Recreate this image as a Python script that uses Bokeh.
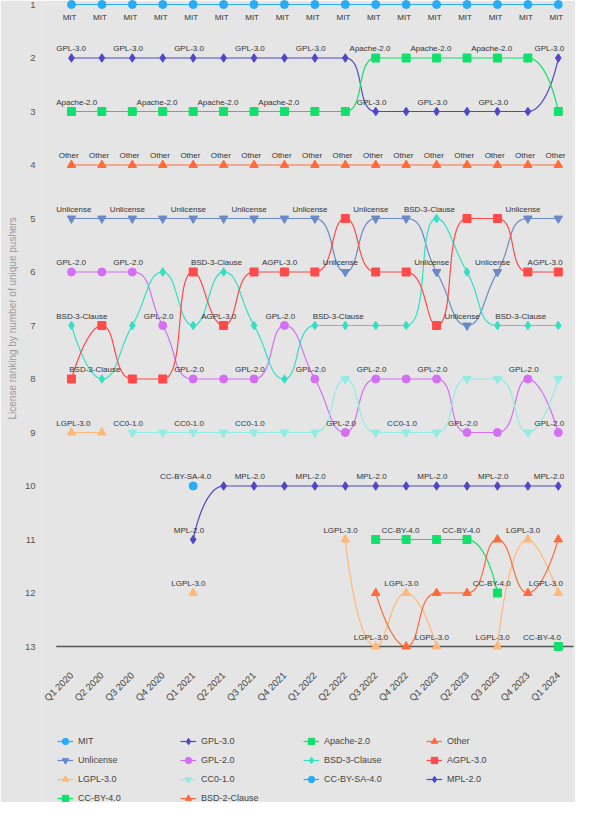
import math
from bokeh.plotting import figure
from bokeh.models import Range1d, FixedTicker, ColumnDataSource, Legend, LegendItem, Title
from bokeh.core.properties import value
from bokeh.embed import file_html
from bokeh.resources import INLINE

N = None
quarters = ["Q1 2020", "Q2 2020", "Q3 2020", "Q4 2020", "Q1 2021", "Q2 2021",
            "Q3 2021", "Q4 2021", "Q1 2022", "Q2 2022", "Q3 2022", "Q4 2022",
            "Q1 2023", "Q2 2023", "Q3 2023", "Q4 2023", "Q1 2024"]

licenses = ["MIT", "GPL-3.0", "Apache-2.0", "Other", "Unlicense", "GPL-2.0",
            "BSD-3-Clause", "AGPL-3.0", "LGPL-3.0", "CC0-1.0", "CC-BY-SA-4.0",
            "MPL-2.0", "CC-BY-4.0", "BSD-2-Clause"]

# rank of each license per quarter (None = not in the ranking)
mit = [1, 1, 1, 1, 1, 1, 1, 1, 1, 1, 1, 1, 1, 1, 1, 1, 1]
gpl3 = [2, 2, 2, 2, 2, 2, 2, 2, 2, 2, 3, 3, 3, 3, 3, 3, 2]
apache2 = [3, 3, 3, 3, 3, 3, 3, 3, 3, 3, 2, 2, 2, 2, 2, 2, 3]
other = [4, 4, 4, 4, 4, 4, 4, 4, 4, 4, 4, 4, 4, 4, 4, 4, 4]
unlicense = [5, 5, 5, 5, 5, 5, 5, 5, 5, 6, 5, 5, 6, 7, 6, 5, 5]
gpl2 = [6, 6, 6, 7, 8, 8, 8, 7, 8, 9, 8, 8, 8, 9, 9, 8, 9]
bsd3 = [7, 8, 7, 6, 7, 6, 7, 8, 7, 7, 7, 7, 5, 6, 7, 7, 7]
agpl3 = [8, 7, 8, 8, 6, 7, 6, 6, 6, 5, 6, 6, 7, 5, 5, 6, 6]
lgpl3 = [9, 9, N, N, 12, N, N, N, N, 11, 13, 12, 13, N, 13, 11, 12]
cc0 = [N, N, 9, 9, 9, 9, 9, 9, 9, 8, 9, 9, 9, 8, 8, 9, 8]
ccbysa4 = [N, N, N, N, 10, N, N, N, N, N, N, N, N, N, N, N, N]
mpl2 = [N, N, N, N, 11, 10, 10, 10, 10, 10, 10, 10, 10, 10, 10, 10, 10]
ccby4 = [N, N, N, N, N, N, N, N, N, N, 11, 11, 11, 11, 12, N, 13]
bsd2 = [N, N, N, N, N, N, N, N, N, N, 12, 13, 12, 12, 11, 12, 11]

series = [mit, gpl3, apache2, other, unlicense, gpl2, bsd3, agpl3, lgpl3, cc0,
          ccbysa4, mpl2, ccby4, bsd2]

# quarters whose point label is visible (the others are hidden by overlap)
shown = [
    list(range(17)),
    [0, 2, 4, 6, 8, 10, 12, 14, 16],
    [0, 3, 5, 7, 10, 12, 14],
    list(range(17)),
    [0, 2, 4, 6, 8, 9, 10, 12, 13, 14, 15],
    [0, 2, 3, 4, 6, 7, 8, 9, 10, 12, 13, 15, 16],
    [0, 1, 5, 9, 12, 15],
    [5, 7, 16],
    [0, 4, 9, 10, 11, 12, 14, 15, 16],
    [2, 4, 6, 11],
    [4],
    [4, 6, 8, 10, 12, 14, 16],
    [11, 13, 14, 16],
    [],
]

palette = ["#29abf5", "#5047c8", "#12e06c", "#ff6b3b", "#6a8ac6",
           "#d46ff5", "#33e0c4", "#ff4a4a", "#ffb878", "#92ece4"]
shapes = ["circle", "diamond", "square", "triangle", "inverted_triangle"]

BG = "#e5e5e5"
FONT = "Liberation Sans"

W, H = 575, 802
BL, BR, BT = 32, 2, 4
LEFT_PAD = 15          # px between frame left edge and the category band start
CHART_H = 642          # pixel height from rank 1 to rank 13
NQ = len(quarters)
PXX = (W - BL - BR - LEFT_PAD) / NQ
PXY = CHART_H / 12.0
below = (H - BT - CHART_H) / PXY   # extra rank units below rank 13 (axis labels + legend)

p = figure(width=W, height=H, x_range=Range1d(-0.5 - LEFT_PAD / PXX, NQ - 0.5),
           y_range=Range1d(13 + below, 1),
           output_backend="svg", toolbar_location=None,
           min_border_left=BL, min_border_right=BR, min_border_top=BT, min_border_bottom=0,
           background_fill_color=BG, border_fill_color=BG, outline_line_color=None)
p.grid.visible = False

xa = p.xaxis[0]
xa.fixed_location = 13
xa.ticker = FixedTicker(ticks=list(range(NQ)))
xa.major_label_overrides = {i: q for i, q in enumerate(quarters)}
xa.major_label_orientation = math.pi / 4
xa.axis_line_color = None
xa.major_tick_line_color = None
xa.minor_tick_line_color = None
xa.major_label_text_font = FONT
xa.major_label_text_font_size = "9.5px"
xa.major_label_text_color = "#444444"
xa.major_label_standoff = 21

# x axis baseline spanning the category band
p.segment(x0=[-0.5], y0=[13], x1=[NQ - 0.5], y1=[13], line_color="#555555",
          line_width=1.5, level="guide")

ya = p.yaxis[0]
ya.ticker = FixedTicker(ticks=list(range(1, 14)))
ya.axis_line_color = None
ya.major_tick_line_color = None
ya.minor_tick_line_color = None
ya.major_label_text_font = FONT
ya.major_label_text_font_size = "9.5px"
ya.major_label_text_color = "#555555"
ya.major_label_standoff = 0

ytitle = Title(text="License ranking by number of unique pushers", align="left",
               offset=383, standoff=8, text_font=FONT, text_font_size="10px",
               text_font_style="normal", text_color="#999999")
p.add_layout(ytitle, "left")


def smooth_runs(vals, smooth=0.5, steps=20):
    """Smoothed path through the ranks (cubic Beziers with clamped control points)."""
    xs, ys = [], []
    runs, cur = [], []
    for i, v in enumerate(vals):
        if v is None:
            if cur:
                runs.append(cur)
            cur = []
        else:
            cur.append((i * PXX, v * PXY))
    if cur:
        runs.append(cur)
    for pts in runs:
        if len(pts) < 2:
            continue
        n = len(pts)
        path = [pts[0]]
        cp0 = pts[0]
        for k in range(1, n):
            x, y = pts[k]
            px, py = pts[k - 1]
            ncp0 = None
            if k == n - 1:
                cp1 = (x, y)
            else:
                nx, ny = pts[k + 1]
                vx, vy = nx - px, ny - py
                lp = math.hypot(x - px, y - py)
                ln = math.hypot(nx - x, ny - y)
                ratio = ln / (ln + lp)
                ncx = x + vx * smooth * ratio
                ncy = y + vy * smooth * ratio
                ncx = max(min(ncx, max(nx, x)), min(nx, x))
                ncy = max(min(ncy, max(ny, y)), min(ny, y))
                vx, vy = ncx - x, ncy - y
                c1x = x - vx * lp / ln
                c1y = y - vy * lp / ln
                c1x = max(min(c1x, max(px, x)), min(px, x))
                c1y = max(min(c1y, max(py, y)), min(py, y))
                vx, vy = x - c1x, y - c1y
                ncp0 = (x + vx * ln / lp, y + vy * ln / lp)
                cp1 = (c1x, c1y)
            for s in range(1, steps + 1):
                t = s / steps
                a, b, c, d = (1 - t) ** 3, 3 * (1 - t) ** 2 * t, 3 * (1 - t) * t * t, t ** 3
                path.append((a * px + b * cp0[0] + c * cp1[0] + d * x,
                             a * py + b * cp0[1] + c * cp1[1] + d * y))
            cp0 = ncp0
        if xs:
            xs.append(float("nan"))
            ys.append(float("nan"))
        xs.extend(q[0] / PXX for q in path)
        ys.extend(q[1] / PXY for q in path)
    return xs, ys


AW = {'M': .833, 'I': .278, 'T': .611, 'G': .778, 'P': .667, 'L': .556, '-': .333,
      '.': .278, 'A': .667, 'p': .556, 'a': .556, 'c': .5, 'h': .556, 'e': .556,
      'O': .778, 't': .278, 'r': .333, 'U': .722, 'n': .556, 'l': .222, 'i': .222,
      's': .5, 'B': .667, 'S': .667, 'D': .722, 'C': .722, 'u': .556, 'Y': .667, 'V': .667}


def text_w(s, fs):
    return sum(AW.get(ch, 0.556) for ch in s) * fs


LABEL_FS = 8.0
lab_x, lab_y, lab_t = [], [], []
for name, vals, vis in zip(licenses, series, shown):
    w = text_w(name, LABEL_FS)
    for i in vis:
        v = vals[i]
        if v is None:
            continue
        left = i * PXX - 0.65 * w
        left = max(left, -0.5 * PXX)
        left = min(left, (NQ - 0.5) * PXX - 1 - 1.3 * w)
        yc = v * PXY + (12.5 if v == 1 else -9.3)
        lab_x.append(left / PXX)
        lab_y.append(yc / PXY)
        lab_t.append(name)

items = []
for k, (name, vals) in enumerate(zip(licenses, series)):
    color = palette[k % 10]
    px_ = [i for i, v in enumerate(vals) if v is not None]
    py_ = [v for v in vals if v is not None]
    xs, ys = smooth_runs(vals)
    if not xs:
        xs, ys = px_[:1], py_[:1]
    lr = p.line(xs, ys, line_color=color, line_width=1.2, level="overlay")
    shape = shapes[k % 5]
    if shape == "diamond":
        sr = p.scatter(px_, py_, marker="diamond", size=8.5,
                       fill_color=color, line_color=color, level="overlay")
    elif shape in ("triangle", "inverted_triangle"):
        sr = p.scatter(px_, py_, marker=shape, size=8.5, fill_color=color,
                       line_color=color, level="overlay")
    else:
        sr = p.scatter(px_, py_, marker=shape, size=8, fill_color=color,
                       line_color=color, level="overlay")
    items.append(LegendItem(label=name, renderers=[lr, sr]))

src = ColumnDataSource(dict(x=lab_x, y=lab_y, text=lab_t))
p.text(x="x", y="y", text="text", source=src, text_font=value(FONT),
       text_font_size="8px", text_color="#333333", text_align="left",
       text_baseline="middle", level="overlay")

legend = Legend(items=items, orientation="horizontal", ncols=4, location=(LEFT_PAD + 1, -4),
                glyph_width=16, glyph_height=16, label_height=16, label_width=99,
                label_standoff=5, spacing=3, padding=0, margin=0,
                border_line_color=None, background_fill_alpha=0,
                label_text_font=FONT, label_text_font_size="9px",
                label_text_color="#444444")
p.add_layout(legend)

open("out.html", "w").write(file_html(p, INLINE))
